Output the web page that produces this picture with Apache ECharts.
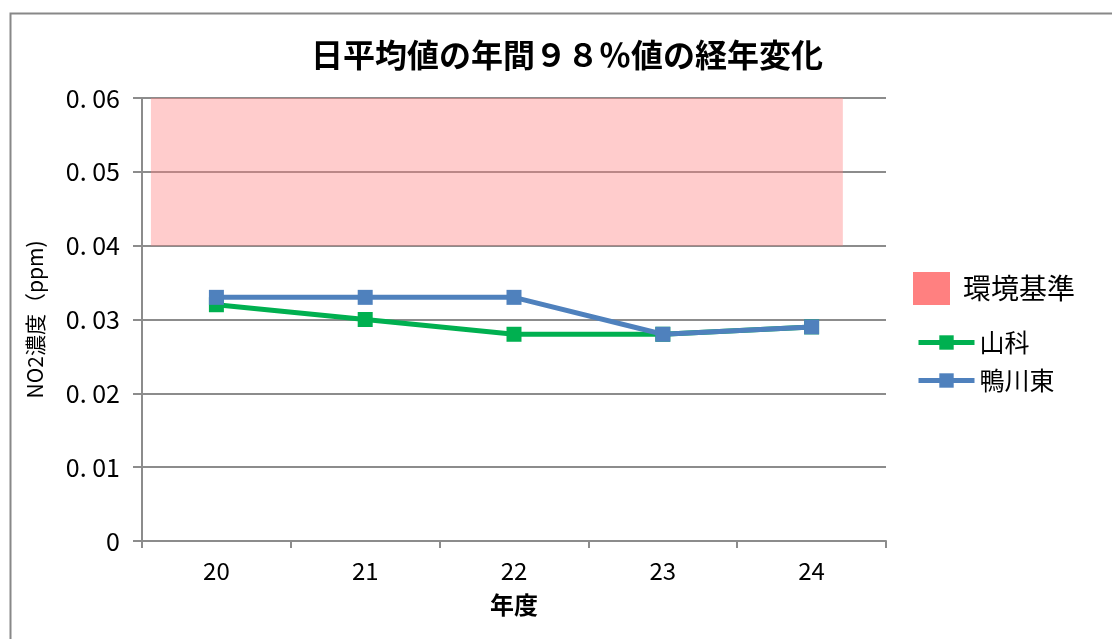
<!DOCTYPE html>
<html>
<head>
<meta charset="utf-8">
<script src="https://cdn.jsdelivr.net/npm/echarts@6/dist/echarts.min.js"></script>
<style>
  html, body { margin: 0; padding: 0; background: #fff; }
  #chart { width: 1112px; height: 639px; }
</style>
</head>
<body>
<div id="chart"></div>
<script>
// Fiscal years (category axis)
const years = ['20', '21', '22', '23', '24'];
// Annual 98th-percentile of daily mean NO2 (ppm)
const yamashina = [0.032, 0.030, 0.028, 0.028, 0.029];
const kamogawaHigashi = [0.033, 0.033, 0.033, 0.028, 0.029];
// Environmental standard zone: [x start, x end, lower ppm, upper ppm]
// x is measured in category units on a hidden value axis (-0.5 .. 4.5)
const standardZone = [[-0.44, 4.21, 0.04, 0.06]];

const JP = '"Noto Sans CJK JP", "Noto Sans", sans-serif';
const gridColor = '#8c8c8c';

const chart = echarts.init(document.getElementById('chart'), null, { renderer: 'canvas' });

chart.setOption({
  animation: false,
  backgroundColor: '#fff',
  textStyle: { fontFamily: JP },
  title: {
    text: '日平均値の年間９８％値の経年変化',
    left: 562,
    textAlign: 'center',
    top: 34,
    textStyle: { fontFamily: JP, fontSize: 32, fontWeight: 'bold', color: '#000' }
  },
  graphic: [{
    type: 'rect',
    left: 8, top: 11,
    shape: { width: 1130, height: 660 },
    style: { fill: 'none', stroke: '#888', lineWidth: 2 },
    silent: true, z: -10
  }],
  grid: { left: 142, right: 226, top: 98, bottom: 98, containLabel: false },
  legend: [
    {
      data: [{ name: '環境基準', icon: 'rect', itemStyle: { color: '#FF8080', opacity: 1 } }],
      left: 913, top: 272, padding: 0,
      itemWidth: 37, itemHeight: 33,
      textStyle: { fontFamily: JP, fontSize: 28, color: '#000', padding: [0, 0, 0, 8] }
    },
    {
      data: ['山科'],
      left: 916, top: 330, padding: 0,
      itemWidth: 56, itemHeight: 18,
      lineStyle: { width: 5 },
      textStyle: { fontFamily: JP, fontSize: 25, color: '#000', padding: [0, 0, 0, 0] }
    },
    {
      data: ['鴨川東'],
      left: 916, top: 368, padding: 0,
      itemWidth: 56, itemHeight: 18,
      lineStyle: { width: 5 },
      textStyle: { fontFamily: JP, fontSize: 25, color: '#000', padding: [0, 0, 0, 0] }
    }
  ],
  xAxis: [
    {
      type: 'category',
      data: years,
      boundaryGap: true,
      name: '年度',
      nameLocation: 'middle',
      nameGap: 52,
      nameTextStyle: { fontFamily: JP, fontSize: 24, fontWeight: 'bold', color: '#000' },
      axisLine: { lineStyle: { color: gridColor, width: 2 } },
      axisTick: { show: true, alignWithLabel: false, length: 7, lineStyle: { color: gridColor, width: 2 } },
      axisLabel: { fontFamily: JP, fontSize: 24, color: '#000', margin: 18 },
      splitLine: { show: false }
    },
    {
      type: 'value',
      min: -0.5, max: 4.5,
      show: false
    }
  ],
  yAxis: {
    type: 'value',
    min: 0, max: 0.06, interval: 0.01,
    name: 'NO2濃度（ppm)',
    nameLocation: 'middle',
    nameRotate: 90,
    nameGap: 96,
    nameTextStyle: { fontFamily: JP, fontSize: 21, color: '#000' },
    axisLine: { show: true, onZero: false, lineStyle: { color: gridColor, width: 2 } },
    axisTick: { show: true, length: 9, lineStyle: { color: gridColor, width: 2 } },
    axisLabel: {
      fontFamily: JP, fontSize: 25, color: '#000', margin: 22,
      formatter: v => (v === 0 ? '0' : v.toFixed(2).replace('.', '. '))
    },
    splitLine: { show: true, lineStyle: { color: gridColor, width: 2 } }
  },
  series: [
    {
      name: '環境基準',
      type: 'custom',
      xAxisIndex: 1,
      itemStyle: { color: '#FF8080' },
      encode: { x: [0, 1], y: [2, 3] },
      data: standardZone,
      z: 3,
      renderItem: function (params, api) {
        const p0 = api.coord([api.value(0), api.value(3)]);
        const p1 = api.coord([api.value(1), api.value(2)]);
        return {
          type: 'rect',
          shape: { x: p0[0], y: p0[1], width: p1[0] - p0[0], height: p1[1] - p0[1] },
          style: { fill: '#FF8080', opacity: 0.4 }
        };
      }
    },
    {
      name: '山科',
      type: 'line',
      data: yamashina,
      color: '#00B050',
      lineStyle: { width: 5, color: '#00B050' },
      itemStyle: { color: '#00B050' },
      symbol: 'rect',
      symbolSize: 15,
      z: 4
    },
    {
      name: '鴨川東',
      type: 'line',
      data: kamogawaHigashi,
      color: '#4F81BD',
      lineStyle: { width: 5, color: '#4F81BD' },
      itemStyle: { color: '#4F81BD' },
      symbol: 'rect',
      symbolSize: 15,
      z: 5
    }
  ]
});
</script>
</body>
</html>
